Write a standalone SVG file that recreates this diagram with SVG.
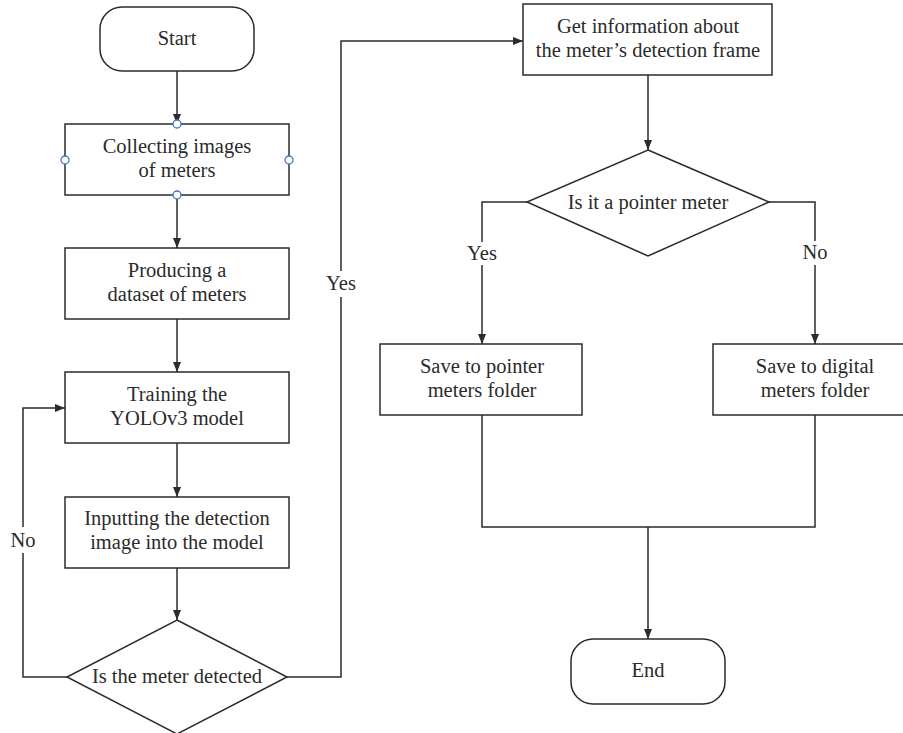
<svg xmlns="http://www.w3.org/2000/svg" width="903" height="733" viewBox="0 0 903 733">
<style>
.box{fill:#fff;stroke:#2b2b2b;stroke-width:1.5}
.t{font-family:"Liberation Serif","Times New Roman",serif;font-size:20.5px;fill:#2b2b2b;text-anchor:middle}
.ln{fill:none;stroke:#2b2b2b;stroke-width:1.5}
.h{fill:#fff;stroke:#4472c4;stroke-width:1.3}
</style>
<defs>
<marker id="arr" viewBox="0 0 10 8" refX="10" refY="4" markerWidth="10" markerHeight="8" markerUnits="userSpaceOnUse" orient="auto">
<path d="M0,0 L10,4 L0,8 Z" fill="#2b2b2b"/>
</marker>
</defs>
<rect width="903" height="733" fill="#fff"/>
<g id="connectors">
<path class="ln" d="M177,71 V124" marker-end="url(#arr)"/>
<path class="ln" d="M177,195 V248" marker-end="url(#arr)"/>
<path class="ln" d="M177,319 V372" marker-end="url(#arr)"/>
<path class="ln" d="M177,443 V497" marker-end="url(#arr)"/>
<path class="ln" d="M177,568 V620" marker-end="url(#arr)"/>
<path class="ln" d="M67,677 H23 V553"/>
<path class="ln" d="M23,527 V408 H65" marker-end="url(#arr)"/>
<path class="ln" d="M287,677 H341 V297"/>
<path class="ln" d="M341,271 V41 H523" marker-end="url(#arr)"/>
<path class="ln" d="M648,75 V150" marker-end="url(#arr)"/>
<path class="ln" d="M527,202 H482 V242"/>
<path class="ln" d="M482,265 V344" marker-end="url(#arr)"/>
<path class="ln" d="M769,202 H815 V241"/>
<path class="ln" d="M815,265 V344" marker-end="url(#arr)"/>
<path class="ln" d="M482,415 V527 H815 V415"/>
<path class="ln" d="M648,527 V639" marker-end="url(#arr)"/>
<text class="t" x="23" y="547">No</text>
<text class="t" x="341" y="290">Yes</text>
<text class="t" x="482" y="260">Yes</text>
<text class="t" x="815" y="259">No</text>
</g>
<g id="start">
<rect class="box" x="100" y="7" width="154" height="64" rx="22"/>
<text class="t" x="177" y="45">Start</text>
</g>
<g id="collect">
<rect class="box" x="65" y="124" width="224" height="71"/>
<text class="t" x="177" y="153">Collecting images</text>
<text class="t" x="177" y="177">of meters</text>
<circle class="h" cx="177" cy="124" r="4"/>
<circle class="h" cx="65" cy="160" r="4"/>
<circle class="h" cx="289" cy="160" r="4"/>
<circle class="h" cx="177" cy="195" r="4"/>
</g>
<g id="produce">
<rect class="box" x="65" y="248" width="224" height="71"/>
<text class="t" x="177" y="277">Producing a</text>
<text class="t" x="177" y="301">dataset of meters</text>
</g>
<g id="train">
<rect class="box" x="65" y="372" width="224" height="71"/>
<text class="t" x="177" y="401">Training the</text>
<text class="t" x="177" y="425">YOLOv3 model</text>
</g>
<g id="input">
<rect class="box" x="65" y="497" width="224" height="71"/>
<text class="t" x="177" y="525">Inputting the detection</text>
<text class="t" x="177" y="549">image into the model</text>
</g>
<g id="detected">
<polygon class="box" points="177,620 287,677 177,734 67,677"/>
<text class="t" x="177" y="683">Is the meter detected</text>
</g>
<g id="getinfo">
<rect class="box" x="523" y="4" width="249" height="71"/>
<text class="t" x="648" y="33">Get information about</text>
<text class="t" x="648" y="57">the meter’s detection frame</text>
</g>
<g id="pointer">
<polygon class="box" points="648,150 769,202 648,256 527,202"/>
<text class="t" x="648" y="209">Is it a pointer meter</text>
</g>
<g id="savepointer">
<rect class="box" x="380" y="344" width="202" height="71"/>
<text class="t" x="482" y="373">Save to pointer</text>
<text class="t" x="482" y="397">meters folder</text>
</g>
<g id="savedigital">
<rect class="box" x="713" y="344" width="204" height="71"/>
<text class="t" x="815" y="373">Save to digital</text>
<text class="t" x="815" y="397">meters folder</text>
</g>
<g id="end">
<rect class="box" x="571" y="639" width="154" height="65" rx="22"/>
<text class="t" x="648" y="677">End</text>
</g>
</svg>
